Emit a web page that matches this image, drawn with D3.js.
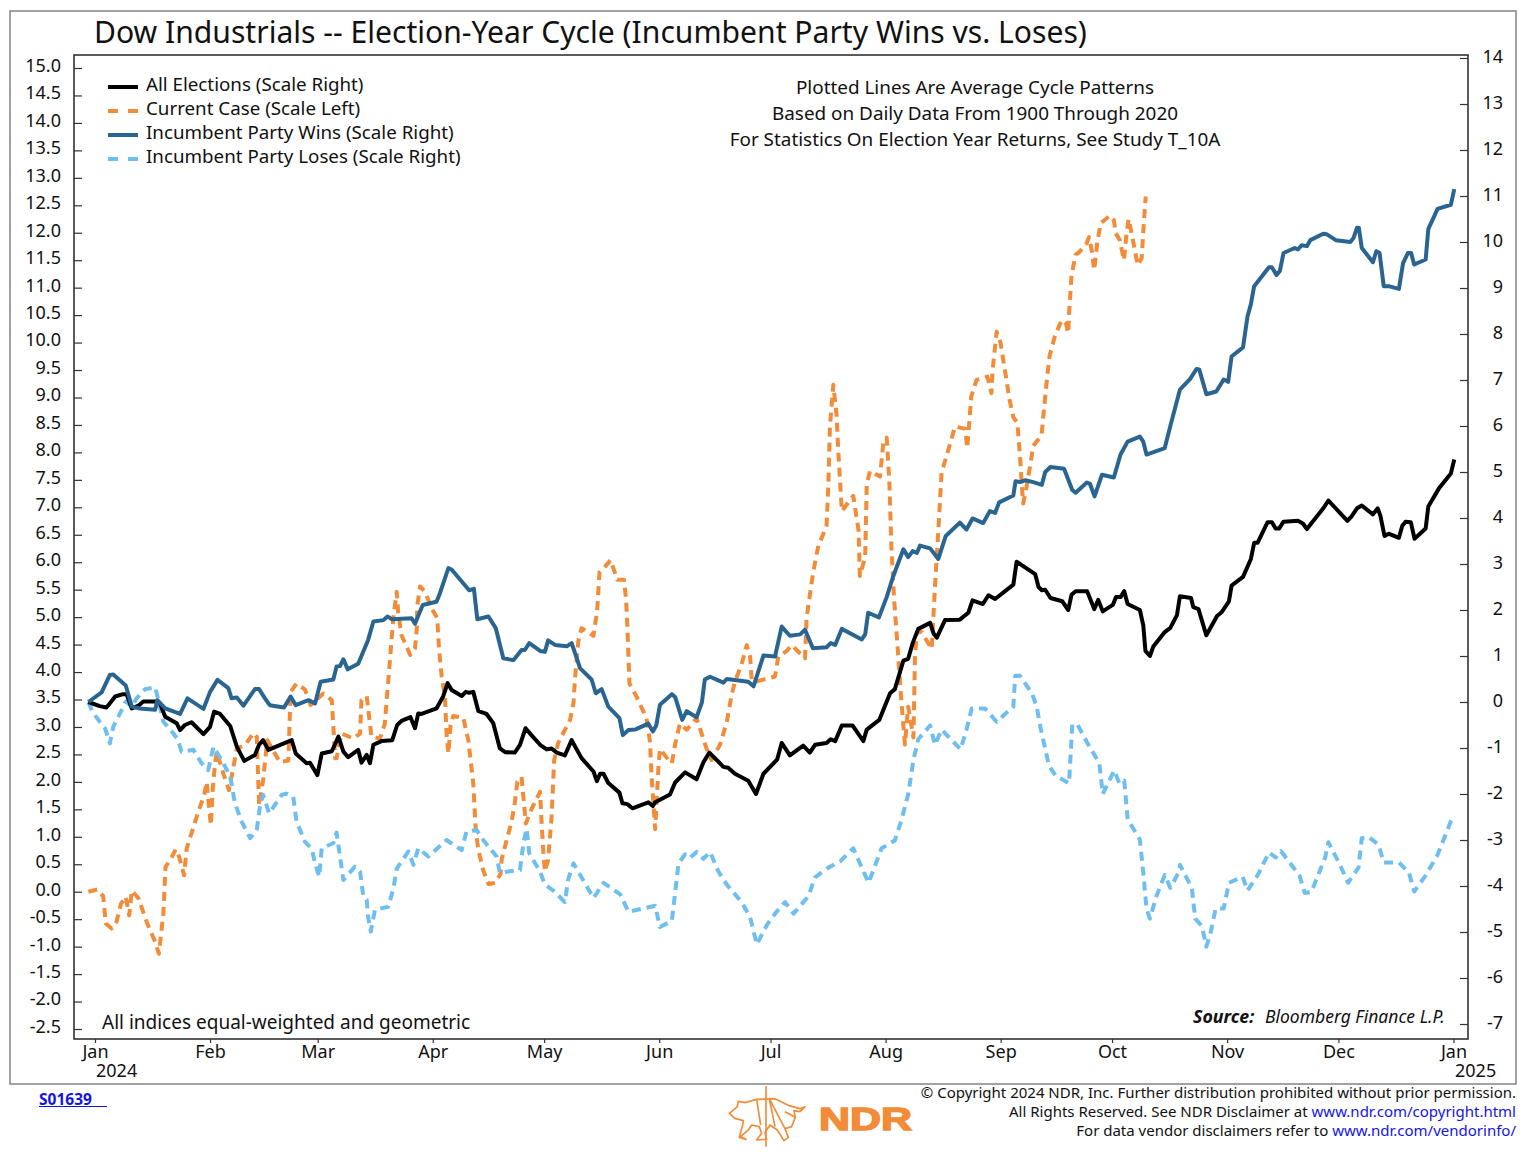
<!DOCTYPE html>
<html>
<head>
<meta charset="utf-8">
<script src="https://cdn.jsdelivr.net/npm/d3@7"></script>
<style>
body { margin: 0; background: #fff; }
text { font-family: "Noto Sans", sans-serif; fill: #111; }
</style>
</head>
<body>
<div id="chart"></div>
<script>
// Tick labels
const leftTicks = d3.range(-25, 155, 5).map(d => d / 10);
const rightTicks = d3.range(-7, 15);
const monthLabels = ["Jan", "Feb", "Mar", "Apr", "May", "Jun", "Jul", "Aug", "Sep", "Oct", "Nov", "Dec", "Jan"];

// All elections, scale right (days since Jan 1 2024, percent)
const allDays = [-1.8,1.3,3.1,4,5.4,7.6,8.5,9.9,11.7,13,16.6,17.5,18.9,22,22.9,24.2,26,29.2,31,32.1,33.7,36.4,38.2,40.2,43.1,44.2,45.3,46.7,53,54.1,57,57.9,59.9,61.1,63.8,64.7,65.6,66.9,68.2,70.9,71.8,73.2,74.1,75,77.2,80.1,81.4,82.6,85,86.2,87.1,88,92,93.8,95,96.1,98.8,99.9,100.8,101.9,103.3,105.5,107.3,109.1,110.5,113.1,114.5,116,117.6,119.9,121.7,123,124.4,126.6,128.4,131.1,134.3,135.2,136.1,137,138.3,141.3,142.1,143.4,144.8,149.1,150.3,150.9,154.9,156.3,159,162.1,163.9,165.5,167.5,169.3,170.6,172.4,176,178.1,180.1,183.8,185,187.2,190.8,192.6,194,197.1,198.2,199.4,201.2,204.1,207,207.9,211.3,214.2,215.5,217.8,219.1,220.3,221.8,225,225.9,226.8,229,233,235.3,236.4,239.2,240.7,242.5,247.4,248.3,253.3,254.2,255.1,256,257.4,260.6,262.2,263.1,264.2,267.3,269.2,270.3,271.5,274.2,275.1,276.3,277.3,278.2,281.5,282.4,283,284.2,285.1,288.2,289.7,291.5,292.3,295.3,295.9,297.3,299.4,302.3,303.5,305.5,306.2,309.3,311.4,312.3,313.2,315.9,317.1,318.1,319,320.2,324.1,325.4,326.5,330.9,332.3,337.4,338.5,340,341.3,344.3,345.6,346.3,347.4,348.5,351.3,352.2,353.1,354.5,355.5,358.5,359.2,362.2,365.3,366.2];
const allVals = [0,-0.09,-0.12,-0.03,0.12,0.17,0.17,-0.14,-0.08,0.01,0.01,-0.03,-0.32,-0.46,-0.61,-0.5,-0.44,-0.7,-0.54,-0.21,-0.26,-0.52,-0.97,-1.28,-1.15,-0.93,-0.83,-1.04,-0.83,-1.12,-1.33,-1.32,-1.59,-1.12,-1.07,-0.91,-0.75,-1.08,-1.2,-1.04,-1.32,-1.15,-1.33,-0.93,-0.85,-0.83,-0.5,-0.41,-0.33,-0.57,-0.25,-0.26,-0.14,0.12,0.41,0.26,0.13,0.22,0.2,0.22,-0.2,-0.26,-0.46,-1.01,-1.09,-1.1,-0.93,-0.57,-0.72,-0.93,-1.03,-1.01,-1.1,-1.16,-0.83,-1.22,-1.51,-1.72,-1.56,-1.56,-1.76,-1.97,-2.2,-2.22,-2.31,-2.18,-2.26,-2.18,-2.01,-1.75,-1.53,-1.68,-1.31,-1.1,-1.26,-1.41,-1.43,-1.56,-1.71,-2,-1.56,-1.25,-0.89,-1.16,-0.95,-1.1,-0.93,-0.89,-0.81,-0.85,-0.51,-0.51,-0.85,-0.6,-0.39,0.19,0.28,0.9,0.94,1.28,1.59,1.72,1.49,1.4,1.78,1.79,1.94,2.21,2.13,2.32,2.24,2.55,3.05,2.78,2.5,2.43,2.44,2.26,2.19,2,2.33,2.41,2.41,2.02,2.22,1.97,2.11,2.28,2.28,2.41,2.13,2,1.67,1.11,1,1.2,1.52,1.61,1.89,2.3,2.26,2.06,2.02,1.45,1.87,1.95,2.19,2.53,2.72,3.11,3.46,3.46,3.91,3.91,3.77,3.77,3.92,3.94,3.88,3.76,4.21,4.38,3.94,4.03,4.21,4.27,4.08,4.21,4.05,3.61,3.66,3.57,3.83,3.92,3.91,3.55,3.77,4.25,4.66,4.97,5.27];

// Current case, scale left
const caseDays = [-1.8,0.6,2.2,2.9,4.5,5.8,7,8.3,9.2,9.9,11.7,14.1,16.2,17.2,18.4,19,20.7,21.7,22.7,24,24.7,27.8,29.4,30.1,31.2,31.7,32.3,32.8,34.6,36.1,37.3,38.2,40.4,42.7,43.6,44.2,45.3,46.4,49.8,52.1,52.7,54.3,56.6,58.1,61.5,63.8,64.7,65.1,66.4,69.6,71.4,71.8,73.2,74.5,76.8,78.1,79.5,79.9,80.4,81.3,81.7,82.6,84.9,86.2,86.7,86.8,87.6,88.9,90.7,92.2,92.7,93.4,94.3,94.7,95.2,95.8,96.5,99.2,100.6,101.9,102.6,103.3,104.6,106,107.8,109.3,109.6,110.9,112.2,113.1,113.8,114.9,115.6,116.1,117.2,119.9,120.3,120.8,121.2,122.1,123,123.7,124.8,128,128.9,129.3,130.2,131.1,134.3,135.3,135.9,137.4,138.9,140.7,142.5,143.1,143.4,144,145.9,148.6,149.5,150,150.9,151.4,151.8,152.2,154.5,155.4,156.3,157.6,159.4,162.1,164.8,166.1,168.4,170.2,171.5,172.4,174.2,175.6,176.5,176.9,178.3,183.2,184.1,186.3,187.7,191.3,191.7,192.6,193.5,194.9,197.1,197.6,198,198.9,199.8,200.3,201.2,204.3,205.7,206.1,207.5,207.9,208.8,211.5,212.4,213.3,214,214.6,215.3,216.4,217.3,218.2,219.1,220.5,220.9,221.4,222.7,225.4,226.3,227.2,228.1,229.9,231.7,234.4,235,236.1,237.5,240.4,241.5,241.8,242.9,244,244.7,245.6,246.3,247.4,248.5,249.2,249.7,250.1,251,251.9,252.8,255,255.9,256.6,257.2,258.6,260.4,261.6,262.2,262.4,262.8,263.1,264.2,265.1,267.1,267.8,268.5,269.2,270,270.9,273.4,274.5,275,276.1,277.2,277.9,278.5,279.7,280.9,282,282.6,283.1];
const caseVals = [0,0.04,-0.08,-0.58,-0.67,-0.55,-0.22,-0.09,-0.43,0.02,-0.12,-0.58,-0.91,-1.13,-0.4,0.45,0.63,0.77,0.63,0.3,0.79,1.45,1.76,2,1.21,1.85,2.3,2.55,2.15,1.85,2.27,2.61,2.67,2.89,2.82,1.57,2.03,2.76,2.36,2.39,3.64,3.79,3.68,3.4,3.61,3.49,2.43,2.43,2.88,2.79,2.88,3.49,3.56,2.82,2.79,3.06,4.25,4.61,5.01,5.46,5.07,4.67,4.31,4.43,4.79,5.19,5.56,5.46,5.16,4.98,4.4,3.91,3.55,2.88,2.52,3.03,3.2,3.17,2.76,1.97,1.12,0.76,0.39,0.14,0.16,0.33,0.6,0.94,1.27,1.61,2,2.09,1.61,1.24,1.45,1.82,1.3,0.72,0.37,0.58,1.35,2.4,2.71,3.13,3.44,3.86,4.56,4.8,4.66,5.12,5.82,5.92,6.04,5.68,5.68,5.33,4.84,3.79,3.55,3.16,2.74,2.05,1.14,1.77,2.26,2.6,2.4,2.34,2.68,3.06,2.95,3.16,2.6,2.4,2.68,3.09,3.58,3.83,4.14,4.49,4.28,3.86,3.83,3.92,4.28,4.38,4.49,4.25,4.98,5.4,5.82,6.31,6.65,7.42,8.47,9.23,8.68,7.98,6.93,7.21,6.58,5.75,6.1,7.42,7.66,7.56,8.19,8.27,7.49,6.23,5.33,4.28,3.44,2.68,3.37,2.81,4.28,4.73,4.73,4.42,5.54,6.58,7.63,8.05,8.47,8.43,8.08,9.02,9.32,9.38,9.08,9.47,10.2,9.99,9.68,9.32,8.99,8.64,8.54,7.94,7.38,7.07,7.38,7.75,8.12,8.31,8.95,9.41,9.77,10.11,10.41,10.35,10.17,10.53,10.9,11.23,11.6,11.64,11.8,11.92,11.69,11.32,11.81,12.17,12.31,12.23,11.99,11.87,11.5,11.99,12.25,11.84,11.41,11.54,12.2,12.66];

// Incumbent party wins, scale right
const winDays = [-1.8,1.8,4,4.9,8.3,9.9,12.1,16.2,16.8,18.9,22.9,24.9,29.2,31,33,35.9,36.8,38.2,40,43.1,44.2,45.8,47.1,50.9,52.7,54.1,57.5,59.3,60.8,64.2,65.1,66,66.9,68.1,70.9,73.6,75,77.7,78.8,79.9,85.3,86.2,88.3,92,92.9,95.2,96.1,100.8,102.1,103,106,108,110,112.7,114.9,115.8,117,119.9,121.2,122.1,123.9,127.1,128.4,130.7,133.8,134.9,136.5,138.3,141.3,142.2,143.7,145.5,149.1,150.3,151.2,152.2,155.4,156.3,158.2,159.4,162.1,163.5,164.3,165.7,169.3,170.2,176,177.4,180.1,183.2,185,187.2,190,191.3,193.4,197.1,198.2,199.4,201.2,206.6,207.5,208.3,211.2,213.3,215.1,217.8,219.1,220.3,221.4,222.3,225,227.2,229.2,233,234.8,236.4,239.3,241.1,242.5,243.6,247.4,248,249.2,250.6,252.8,255.1,256,257.4,261.1,263.3,264.2,267.2,268.1,269.3,271.3,274.5,276.3,278.2,281.5,282.4,283.3,288.2,289.7,292.3,295,296.8,297.5,299.4,302.1,304.1,305.3,306.2,309.3,310.5,311.4,312.3,316.3,317.1,318.3,319.2,320.2,323.2,324.1,325.1,326.5,327.4,330.9,331.8,334.3,338.2,339.1,340,340.5,341.3,344.3,345.2,346.1,347.2,348.5,351.3,352.4,353.7,354.6,355.4,358.5,359.2,361.7,365.3,366.2];
const winVals = [0,0.21,0.59,0.6,0.36,-0.1,-0.14,-0.17,0.04,-0.14,-0.26,0.08,-0.15,0.22,0.48,0.3,0.08,0.1,-0.08,0.28,0.28,0.08,-0.07,-0.12,0.12,-0.07,0.04,-0.03,0.44,0.49,0.77,0.78,0.93,0.71,0.83,1.35,1.75,1.78,1.86,1.8,1.82,1.7,2.11,2.18,2.36,2.91,2.88,2.43,2.46,1.8,1.86,1.6,0.95,0.91,1.13,1.13,1.28,1.11,1.09,1.34,1.24,1.21,1.28,0.73,0.49,0.19,0.28,-0.1,-0.35,-0.72,-0.61,-0.6,-0.47,-0.64,-0.51,-0.06,0.17,0.11,-0.39,-0.2,-0.33,-0.01,0.49,0.55,0.42,0.5,0.44,0.34,1.01,0.99,1.64,1.44,1.47,1.57,1.17,1.19,1.28,1.24,1.59,1.36,1.47,1.94,1.84,2.28,2.74,3.32,3.15,3.28,3.24,3.4,3.34,3.11,3.61,3.9,3.75,3.99,3.89,4.15,4.11,4.34,4.49,4.8,4.78,4.82,4.78,4.72,5,5.11,5.07,4.61,4.55,4.77,4.74,4.47,4.94,4.88,5.38,5.66,5.77,5.66,5.38,5.52,6,6.79,7.02,7.24,7.23,6.69,6.75,7.01,6.96,7.51,7.71,8.38,8.65,9.04,9.45,9.45,9.28,9.37,9.76,9.87,9.84,9.93,9.91,10.04,10.18,10.17,10.04,10,10.09,10.31,10.31,9.87,9.56,9.8,9.76,9.04,9.04,8.98,9.54,9.76,9.76,9.51,9.62,10.28,10.72,10.81,11.15];

// Incumbent party loses, scale right
const loseDays = [-1.8,-0.7,1.3,2.7,4,4.9,7.2,8.3,9.9,11.2,13.5,16.2,17.1,18.4,21.1,22.4,23.3,26.5,28.7,30.5,31.9,34.6,36.4,37.7,39.5,41.8,43.6,44.4,45.3,46.9,50.3,51.5,53.4,54.3,56.6,58.4,59.3,60.4,61.1,64.2,65.1,66.9,70,71.4,72.3,73.2,73.6,74.3,75.4,79,80.4,81.3,84.4,85.8,87.1,89.8,94.7,98.8,100.1,102.8,104.6,108.2,109.1,110.9,114.5,115.4,116.3,117,119.9,121.2,123.5,126.6,127.5,128.9,134.3,137,141.5,143.7,150.9,152.2,155.4,157.2,159,160.3,162.1,163.9,165.7,167.9,170.2,174.2,176.5,178.3,181,183.7,185.9,188.2,192.2,194,197.6,200.7,204.3,206.6,208.4,211.9,215.5,217.3,219.1,220.5,221.8,225,226.3,228.1,233.2,234.8,236.2,239.8,242.9,247.4,247.9,249.2,252.4,253.7,254.7,257,258.8,262.4,263.3,264.7,267.3,270.6,271.5,274.6,276,277.3,278.2,281.5,282.4,283.3,284.2,286,288.2,289.7,291.9,292.3,295.5,296.4,298.2,299.4,300.5,301.9,304.1,305.5,309.2,310.5,313.2,316.3,318.1,319.5,324.5,325.9,327.7,331.4,332.3,335.4,337.6,340.4,341.3,343.1,345.8,347.2,351.3,354,355.4,358.5,361.7,365.8];
const loseVals = [0,-0.21,-0.43,-0.57,-0.9,-0.54,-0.17,0.01,-0.1,0.08,0.28,0.32,0.04,-0.43,-0.68,-0.83,-1.08,-1.04,-1.33,-1.48,-0.97,-1.33,-1.62,-2.2,-2.6,-2.96,-2.78,-2.28,-2.02,-2.42,-2.02,-1.99,-2.06,-2.6,-3.04,-3.19,-3.51,-3.8,-3.18,-3.07,-2.84,-3.87,-3.58,-3.69,-4.23,-4.3,-4.67,-4.99,-4.52,-4.45,-4.05,-3.62,-3.25,-3.54,-3.18,-3.36,-3,-3.22,-2.82,-2.78,-3,-3.36,-3.72,-3.69,-3.65,-3.07,-2.75,-3.29,-3.69,-3.97,-4.1,-4.35,-3.85,-3.51,-4.26,-3.93,-4.18,-4.56,-4.43,-4.89,-4.76,-3.51,-3.31,-3.39,-3.26,-3.41,-3.26,-3.68,-3.97,-4.35,-4.68,-5.27,-4.85,-4.55,-4.35,-4.6,-4.22,-3.81,-3.6,-3.47,-3.18,-3.6,-3.93,-3.18,-3.01,-2.56,-2.01,-1.26,-0.81,-0.51,-0.93,-0.6,-1.03,-0.6,-0.14,-0.14,-0.43,-0.1,0.57,0.57,0.19,-0.1,-0.55,-1.38,-1.6,-1.77,-0.49,-0.49,-0.88,-1.33,-2,-1.49,-1.77,-1.71,-2.55,-2.99,-3.71,-4.49,-4.71,-4.21,-3.76,-4.04,-3.71,-3.54,-4.04,-4.71,-4.87,-5.32,-5.04,-4.49,-4.49,-3.93,-3.8,-4.1,-3.77,-3.27,-3.38,-3.24,-3.77,-4.15,-4.13,-3.38,-3.05,-3.54,-3.93,-3.6,-2.96,-2.93,-3.1,-3.49,-3.49,-3.71,-4.12,-3.77,-3.32,-2.49];

const legendNames = ["All Elections (Scale Right)", "Current Case (Scale Left)", "Incumbent Party Wins (Scale Right)", "Incumbent Party Loses (Scale Right)"];
const BLACK = "#000", ORANGE = "#f28c38", DARK = "#2a6491", LIGHT = "#6fbef0";

const width = 1528, height = 1156;
const plot = { left: 74, right: 1468, top: 55, bottom: 1039 };

const svg = d3.select("#chart").append("svg")
    .attr("width", width)
    .attr("height", height)
    .style("display", "block");

const x = d3.scaleTime()
    .domain([new Date(2024, 0, 1), new Date(2025, 0, 1)])
    .range([95, 1453.5]);
const yLeft = d3.scaleLinear().domain([-2.5, 15]).range([1029, 68]);
const yRight = d3.scaleLinear().domain([-7, 14]).range([1024, 58]);

// Day numbers can be fractional or negative, Date takes them as hours
const toDate = day => new Date(2024, 0, 1, Math.round(day * 24));

// Frames
svg.append("rect")
    .attr("x", 10).attr("y", 11).attr("width", 1506).attr("height", 1073)
    .attr("fill", "none").attr("stroke", "#8a8a8a").attr("stroke-width", 1.6);
svg.append("rect")
    .attr("x", plot.left).attr("y", plot.top)
    .attr("width", plot.right - plot.left).attr("height", plot.bottom - plot.top)
    .attr("fill", "none").attr("stroke", "#333").attr("stroke-width", 1.6);

// Axes
const axisLeft = d3.axisLeft(yLeft).tickValues(leftTicks).tickSize(-8).tickPadding(13)
    .tickFormat(d => d.toFixed(1));
const axisRight = d3.axisRight(yRight).tickValues(rightTicks).tickSize(-8).tickPadding(19)
    .tickFormat(d => String(d));
const axisBottom = d3.axisBottom(x)
    .tickValues(d3.timeMonth.range(new Date(2024, 0, 1), new Date(2025, 0, 2)))
    .tickSize(4).tickPadding(2)
    .tickFormat((d, i) => monthLabels[i]);

const gLeft = svg.append("g").attr("transform", `translate(${plot.left},0)`).call(axisLeft);
const gRight = svg.append("g").attr("transform", `translate(${plot.right},0)`).call(axisRight);
const gBottom = svg.append("g").attr("transform", `translate(0,${plot.bottom})`).call(axisBottom);
[gLeft, gRight, gBottom].forEach(g => {
    g.select(".domain").remove();
    g.selectAll("line").attr("stroke", "#333").attr("stroke-width", 1.2);
    g.selectAll("text").style("font-family", "'Noto Sans'").style("font-size", "18px").attr("fill", "#111");
});
gLeft.selectAll("text").attr("dy", "0.19em");
gRight.selectAll("text").attr("text-anchor", "end").attr("x", 35).attr("dy", "0.26em");

svg.append("text").attr("x", 96).attr("y", 1077).style("font-size", "18px").text("2024");
svg.append("text").attr("x", 1455).attr("y", 1077).style("font-size", "18px").text("2025");

// Lines
const line = (days, vals, scale) => d3.line()
    .x((d, i) => x(toDate(days[i])))
    .y((d, i) => scale(vals[i]))(vals);

function drawLine(days, vals, scale, color, dash) {
    svg.append("path")
        .attr("d", line(days, vals, scale))
        .attr("fill", "none")
        .attr("stroke", color)
        .attr("stroke-width", 4)
        .attr("stroke-linejoin", "round")
        .attr("stroke-dasharray", dash);
}

drawLine(caseDays, caseVals, yLeft, ORANGE, "9 6");
drawLine(loseDays, loseVals, yRight, LIGHT, "9 6");
drawLine(allDays, allVals, yRight, BLACK, null);
drawLine(winDays, winVals, yRight, DARK, null);

// Legend
const legendStyles = [[BLACK, null], [ORANGE, "10 10"], [DARK, null], [LIGHT, "10 10"]];
legendNames.forEach((name, i) => {
    const ly = 87 + i * 24;
    svg.append("line")
        .attr("x1", 108).attr("x2", 138).attr("y1", ly).attr("y2", ly)
        .attr("stroke", legendStyles[i][0]).attr("stroke-width", 4)
        .attr("stroke-dasharray", legendStyles[i][1]);
    svg.append("text").attr("x", 146).attr("y", ly + 4).style("font-size", "18.75px").text(name);
});

// Title and notes
svg.append("text").attr("x", 94).attr("y", 43).style("font-size", "30.1px").text("Dow Industrials -- Election-Year Cycle (Incumbent Party Wins vs. Loses)");

const notes = ["Plotted Lines Are Average Cycle Patterns", "Based on Daily Data From 1900 Through 2020", "For Statistics On Election Year Returns, See Study T_10A"];
notes.forEach((t, i) => {
    svg.append("text").attr("x", 975).attr("y", 94 + i * 26).attr("text-anchor", "middle")
        .style("font-size", "18.9px").text(t);
});

svg.append("text").attr("x", 102).attr("y", 1029).style("font-size", "19px").text("All indices equal-weighted and geometric");
svg.append("text").attr("x", 1193).attr("y", 1023).style("font-size", "17.8px")
    .style("font-weight", 700).style("font-style", "italic").text("Source:");
svg.append("text").attr("x", 1265).attr("y", 1023).style("font-size", "17.5px")
    .style("font-style", "italic").text("Bloomberg Finance L.P.");

// Footer
svg.append("text").attr("x", 39).attr("y", 1105).style("font-size", "15.5px").style("font-weight", 700)
    .style("fill", "#1414e6").text("S01639");
svg.append("line").attr("x1", 39).attr("x2", 107).attr("y1", 1106.5).attr("y2", 1106.5)
    .attr("stroke", "#1414e6").attr("stroke-width", 1.2);

const footer = [
    [["\u00a9 Copyright 2024 NDR, Inc. Further distribution prohibited without prior permission.", "#111"]],
    [["All Rights Reserved. See NDR Disclaimer at ", "#111"], ["www.ndr.com/copyright.html", "#1414e6"]],
    [["For data vendor disclaimers refer to ", "#111"], ["www.ndr.com/vendorinfo/", "#1414e6"]]
];
footer.forEach((parts, i) => {
    const t = svg.append("text").attr("x", 1516).attr("y", 1098 + i * 19)
        .attr("text-anchor", "end").style("font-size", "15px");
    parts.forEach(p => t.append("tspan").style("fill", p[1]).text(p[0]));
});

// NDR logo, bear and bull in outline
const logo = svg.append("g")
    .attr("transform", "translate(720,1080) scale(0.3333)")
    .attr("fill", "none").attr("stroke", ORANGE).attr("stroke-width", 5).attr("stroke-linejoin", "round");
logo.append("path").attr("d", "M138,18V200");
logo.append("path").attr("d", "M28,100L52,80L55,64L75,68L110,58L165,56L205,76L240,86L255,80L240,95L222,92L226,112L215,140L195,146L205,172L192,182L172,150L150,135L135,158L140,178L110,180L125,160L118,140L95,135L85,150L62,170L78,178L58,172L68,135L70,122L45,115Z");
logo.append("path").attr("d", "M110,58L122,135M148,56L165,140M148,56L195,146M195,95L226,112");

svg.append("text").attr("x", 819).attr("y", 1130)
    .attr("textLength", 93).attr("lengthAdjust", "spacingAndGlyphs")
    .style("font-family", "'Liberation Sans'").style("font-weight", 700).style("font-size", "31px")
    .style("fill", ORANGE).style("stroke", ORANGE).style("stroke-width", 1.4).text("NDR");
</script>
</body>
</html>
